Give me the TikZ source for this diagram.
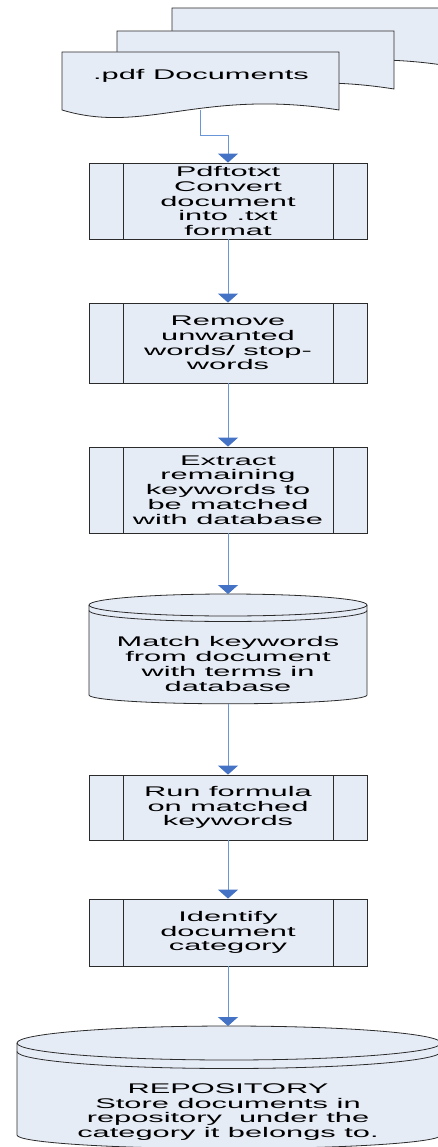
\documentclass[tikz,border=0pt]{standalone}
\usepackage{fontspec}
\newfontfamily\flowfont[FakeStretch=2.2]{Liberation Sans}
\usetikzlibrary{arrows.meta}

\begin{document}
\begin{tikzpicture}[x=1pt, y=-1pt]
  % Colors
  \definecolor{boxfill}{HTML}{E6ECF6}
  \definecolor{outline}{HTML}{2B2B2B}
  \definecolor{flowline}{HTML}{6A96D8}
  \definecolor{flowtip}{HTML}{4472C4}

  % Configurations
  \tikzset{
    label text/.style={font=\flowfont\fontsize{14}{14.8}\selectfont,
      align=center, text=black, inner sep=0pt},
    predef/.style={label text, draw=outline, line width=.8pt, fill=boxfill,
      minimum width=278pt, minimum height=#1,
      path picture={\draw[outline, line width=.8pt]
        ([xshift=34pt]path picture bounding box.north west)
          -- ([xshift=34pt]path picture bounding box.south west)
        ([xshift=-34pt]path picture bounding box.north east)
          -- ([xshift=-34pt]path picture bounding box.south east);}},
    flow/.style={draw=flowline, line width=.9pt,
      -{Triangle[width=20pt, length=9pt, color=flowtip, fill=flowtip]}},
    shell/.style={outline, fill=boxfill, line width=.8pt},
  }

  % Drawing objects
  \newcommand{\docpage}[2]{% left, top
    (#1,#2) -- (#1+277,#2) -- (#1+277,#2+58)
    .. controls (#1+139,#2+36) and (#1+83,#2+83) .. (#1,#2+58)
    -- cycle
  }
  \newcommand{\drum}[5]{% centre x, top, bottom, half width, rim depth
    \filldraw[shell]
      (#1-#4,#2+#5) -- (#1-#4,#3)
      arc[start angle=180, end angle=0, x radius=#4, y radius=#5*.8]
      -- (#1+#4,#2+#5)
      arc[start angle=0, end angle=-180, x radius=#4, y radius=#5]
      -- cycle;
    \draw[shell, fill=none]
      (#1-#4,#2+#5) arc[start angle=180, end angle=0, x radius=#4, y radius=#5]
      (#1-#4,#2+#5*1.5) arc[start angle=180, end angle=0, x radius=#4, y radius=#5];
  }

  % Bounding box
  \useasboundingbox (0,0) rectangle (438,1147);
  \clip (0,0) rectangle (438,1147);

  % Document stack
  \filldraw[shell] \docpage{172}{8};
  \filldraw[shell] \docpage{117}{31};
  \filldraw[shell] \docpage{62}{52};
  \node[label text] (pdfdocs) at (201,76) {.pdf Documents};
  \coordinate (docfoot) at (200,110);

  % Processing steps
  \node[predef=76pt] (pdftotxt) at (228,201)
    {Pdftotxt\\Convert\\document\\into .txt\\format};
  \node[predef=80pt] (remove) at (228,343)
    {Remove\\unwanted\\words/ stop-\\words};
  \node[predef=86pt] (extract) at (228,490)
    {Extract\\remaining\\keywords to\\be matched\\with database};

  % Keyword store
  \drum{228}{594}{695}{139}{11}
  \node[label text] (match) at (228,664)
    {Match keywords\\from document\\with terms in\\database};
  \coordinate (matchtop) at (228,594);
  \coordinate (matchfoot) at (228,704);

  \node[predef=65pt] (formula) at (228,807.5)
    {Run formula\\on matched\\keywords};
  \node[predef=67pt] (identify) at (228,932.5)
    {Identify\\document\\category};

  % Repository
  \drum{229}{1026}{1135}{212}{17}
  \node[label text] (repository) at (228,1112)
    {REPOSITORY\\Store documents in\\repository \ under the\\category it belongs to.};
  \coordinate (repotop) at (228,1026);

  % Flow
  \draw[flow] (docfoot) -- ++(0,25) -| (pdftotxt);
  \draw[flow] (pdftotxt) -- (remove);
  \draw[flow] (remove) -- (extract);
  \draw[flow] (extract) -- (matchtop);
  \draw[flow] (matchfoot) -- (formula);
  \draw[flow] (formula) -- (identify);
  \draw[flow] (identify) -- (repotop);
\end{tikzpicture}
\end{document}
